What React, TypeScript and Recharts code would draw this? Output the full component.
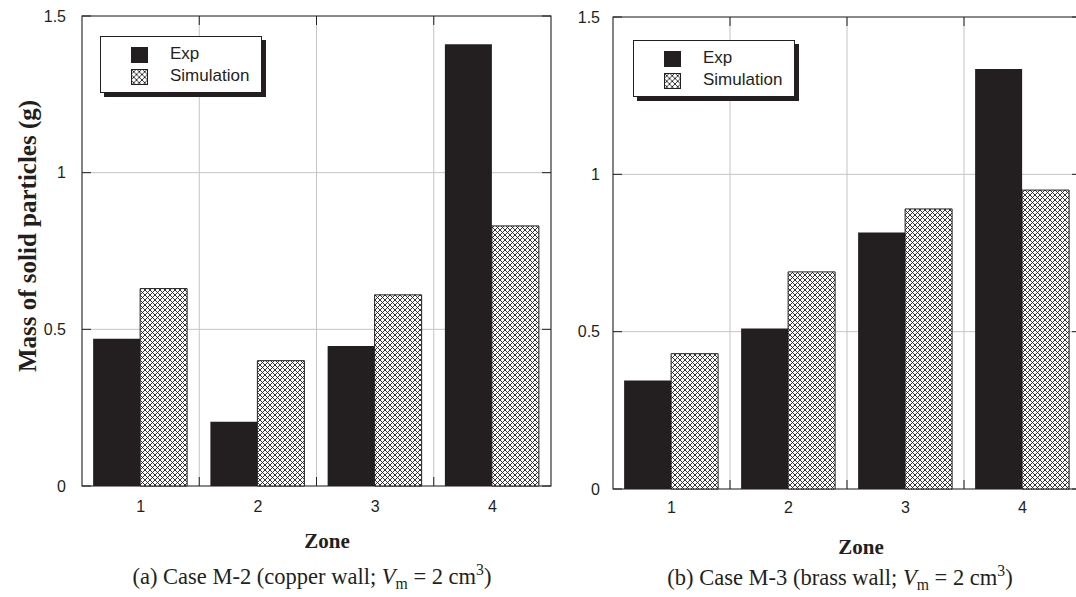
import { Bar, BarChart, CartesianGrid, Legend, ReferenceArea, XAxis, YAxis } from 'recharts';

const zones = ['1', '2', '3', '4'];
const copperExp = [0.47, 0.205, 0.447, 1.41];
const copperSim = [0.63, 0.4, 0.61, 0.83];
const brassExp = [0.345, 0.51, 0.815, 1.335];
const brassSim = [0.43, 0.69, 0.89, 0.95];
const massTicks = [0, 0.5, 1, 1.5];
const seriesNames = ['Exp', 'Simulation'];

const INK = '#231f20';
const GRID = '#c4c4c4';
const TICK_LEN = 9;
const SANS = '"Liberation Sans", Arial, sans-serif';
const SERIF = '"Liberation Serif", "Times New Roman", serif';

interface PlotBox {
  left: number;
  right: number;
  top: number;
  bottom: number;
  width: number;
}

interface PanelProps {
  id: string;
  left: number;
  width: number;
  height: number;
  margin: { top: number; right: number; bottom: number; left: number };
  exp: number[];
  sim: number[];
  legendAt: { left: number; top: number };
  labelGap: number;
  xLabelGap: number;
}

const Y_AXIS_W = 40;
const X_AXIS_H = 30;

function HatchSwatch({ id }: { id: string }) {
  return (
    <svg width={17} height={16} style={{ display: 'block' }}>
      <defs>
        <pattern id={id} patternUnits="userSpaceOnUse" width={5.5} height={5.5}>
          <rect width={5.5} height={5.5} fill="#fff" />
          <path d="M0,0 L5.5,5.5 M5.5,0 L0,5.5" stroke={INK} strokeWidth={0.9} />
        </pattern>
      </defs>
      <rect x={0.5} y={0.5} width={16} height={15} fill={`url(#${id})`} stroke={INK} strokeWidth={1} />
    </svg>
  );
}

function Panel({ id, left, width, height, margin, exp, sim, legendAt, labelGap, xLabelGap }: PanelProps) {
  const data = zones.map((zone, i) => ({ zone, exp: exp[i], sim: sim[i] }));
  const plotLeft = margin.left + Y_AXIS_W;
  const plotTop = margin.top;
  const plotRight = width - margin.right;
  const plotBottom = height - margin.bottom - X_AXIS_H;
  const plot: PlotBox = { left: plotLeft, right: plotRight, top: plotTop, bottom: plotBottom, width: plotRight - plotLeft };
  const bandW = plot.width / zones.length;

  // inward tick on both sides + label
  const yTick = (props: any) => {
    const { y, payload } = props;
    return (
      <g>
        <line x1={plot.left} x2={plot.left + TICK_LEN} y1={y} y2={y} stroke={INK} strokeWidth={1} />
        <line x1={plot.right - TICK_LEN} x2={plot.right} y1={y} y2={y} stroke={INK} strokeWidth={1} />
        <text x={plot.left - labelGap} y={y} dy="0.36em" textAnchor="end" fill={INK} fontSize={16} fontFamily={SANS}>
          {payload.value}
        </text>
      </g>
    );
  };

  // zone boundaries get the inward ticks, label stays at the band centre
  const xTick = (props: any) => {
    const { x, payload, index } = props;
    const edge = x - bandW / 2;
    return (
      <g>
        {index > 0 ? (
          <>
            <line x1={edge} x2={edge} y1={plot.bottom} y2={plot.bottom - TICK_LEN} stroke={INK} strokeWidth={1} />
            <line x1={edge} x2={edge} y1={plot.top} y2={plot.top + TICK_LEN} stroke={INK} strokeWidth={1} />
          </>
        ) : null}
        <text x={x} y={plot.bottom + xLabelGap} dy="0.71em" textAnchor="middle" fill={INK} fontSize={16} fontFamily={SANS}>
          {payload.value}
        </text>
      </g>
    );
  };

  const legendContent = () => (
    <div
      style={{
        width: 162,
        height: 57,
        boxSizing: 'border-box',
        background: '#fff',
        border: `1px solid ${INK}`,
        boxShadow: `4px 4px 0 ${INK}`,
        fontFamily: SANS,
        fontSize: 17,
        color: INK,
        position: 'relative',
      }}
    >
      <div style={{ position: 'absolute', left: 30, top: 10, width: 17, height: 16, background: INK }} />
      <div style={{ position: 'absolute', left: 69, top: 6, lineHeight: '22px' }}>{seriesNames[0]}</div>
      <div style={{ position: 'absolute', left: 30, top: 32 }}>
        <HatchSwatch id={`${id}-swatch`} />
      </div>
      <div style={{ position: 'absolute', left: 69, top: 28, lineHeight: '22px' }}>{seriesNames[1]}</div>
    </div>
  );

  return (
    <div style={{ position: 'absolute', left, top: 0, width, height }}>
      <BarChart width={width} height={height} data={data} margin={margin} barCategoryGap="9.5%" barGap={0}>
        <defs>
          <pattern id={`${id}-hatch`} patternUnits="userSpaceOnUse" width={5} height={5}>
            <rect width={5} height={5} fill="#fff" />
            <path d="M0,0 L5,5 M5,0 L0,5" stroke={INK} strokeWidth={0.9} />
          </pattern>
        </defs>
        <CartesianGrid
          stroke={GRID}
          verticalCoordinatesGenerator={({ offset }: any) =>
            zones.slice(1).map((_, i) => offset.left + ((i + 1) * offset.width) / zones.length)
          }
        />
        <XAxis dataKey="zone" height={X_AXIS_H} axisLine={false} tickLine={false} tick={xTick} interval={0} />
        <YAxis
          width={Y_AXIS_W}
          domain={[0, 1.5]}
          ticks={massTicks}
          axisLine={false}
          tickLine={false}
          tick={yTick}
          interval={0}
        />
        <Legend
          layout="vertical"
          align="center"
          verticalAlign="middle"
          wrapperStyle={{ left: legendAt.left, top: legendAt.top, width: 'auto' }}
          content={legendContent}
        />
        <Bar dataKey="exp" name={seriesNames[0]} fill={INK} isAnimationActive={false} />
        <Bar
          dataKey="sim"
          name={seriesNames[1]}
          fill={`url(#${id}-hatch)`}
          stroke={INK}
          strokeWidth={1}
          isAnimationActive={false}
        />
        <ReferenceArea y1={0} y2={1.5} fill="none" stroke="#333" strokeWidth={1.2} ifOverflow="visible" />
      </BarChart>
    </div>
  );
}

const textBase = { position: 'absolute' as const, color: INK, fontFamily: SERIF, whiteSpace: 'nowrap' as const };

export default function App() {
  return (
    <div style={{ position: 'absolute', left: 0, top: 0, width: 1076, height: 597, overflow: 'hidden', background: '#fff' }}>
      <Panel
        id="copper"
        left={0}
        width={560}
        height={597}
        margin={{ top: 16, right: 9, bottom: 81, left: 42 }}
        exp={copperExp}
        sim={copperSim}
        legendAt={{ left: 100, top: 36 }}
        labelGap={16}
        xLabelGap={15}
      />
      <Panel
        id="brass"
        left={540}
        width={550}
        height={597}
        margin={{ top: 17, right: 9, bottom: 78, left: 33 }}
        exp={brassExp}
        sim={brassSim}
        legendAt={{ left: 93, top: 40 }}
        labelGap={13}
        xLabelGap={13}
      />

      <div
        style={{
          ...textBase,
          left: 28,
          top: 236,
          fontSize: 25,
          fontWeight: 'bold',
          transform: 'translate(-50%, -50%) rotate(-90deg)',
        }}
      >
        Mass of solid particles (g)
      </div>

      <div style={{ ...textBase, left: 327, top: 541, fontSize: 21, fontWeight: 'bold', transform: 'translate(-50%, -50%)' }}>
        Zone
      </div>
      <div style={{ ...textBase, left: 861, top: 547, fontSize: 21, fontWeight: 'bold', transform: 'translate(-50%, -50%)' }}>
        Zone
      </div>

      <div style={{ ...textBase, left: 312, top: 577, fontSize: 22.5, transform: 'translate(-50%, -50%)' }}>
        (a) Case M-2 (copper wall; <i>V</i>
        <sub style={{ fontSize: '0.7em' }}>m</sub> = 2 cm<sup style={{ fontSize: '0.7em' }}>3</sup>)
      </div>
      <div style={{ ...textBase, left: 840, top: 578, fontSize: 22.5, transform: 'translate(-50%, -50%)' }}>
        (b) Case M-3 (brass wall; <i>V</i>
        <sub style={{ fontSize: '0.7em' }}>m</sub> = 2 cm<sup style={{ fontSize: '0.7em' }}>3</sup>)
      </div>
    </div>
  );
}
